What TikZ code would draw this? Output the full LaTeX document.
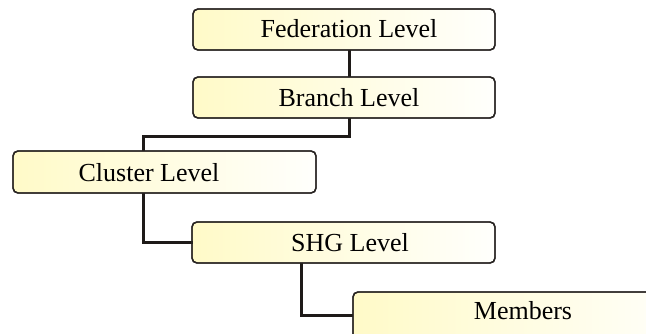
\documentclass[tikz,border=0pt]{standalone}
\usepackage{fontspec}
\setmainfont{Liberation Serif}
\newfontfamily\levelfont{Liberation Serif}
\usetikzlibrary{calc}
\definecolor{boxyellow}{RGB}{255,250,200}
\definecolor{boxwhite}{RGB}{255,255,252}
\definecolor{boxedge}{RGB}{40,36,34}
\definecolor{linkcol}{RGB}{30,26,24}
\tikzset{
  levelbox/.style={draw=boxedge, line width=1.4pt, rounded corners=5pt,
    left color=boxyellow, right color=boxwhite, inner sep=0pt},
  boxedge/.style={draw=boxedge, line width=1.4pt, rounded corners=5pt},
  lbl/.style={anchor=base, inner sep=0pt, text=black,
    font=\levelfont\fontsize{26}{31}\selectfont},
  link/.style={draw=linkcol, line width=3pt}
}
\begin{document}
\begin{tikzpicture}[x=1pt, y=-1pt]
  \useasboundingbox (0,0) rectangle (646,333);
  \clip (0,0) rectangle (646,333);

  % level boxes
  \path[levelbox] (193,9)   rectangle (495,50)  node[pos=0.5, inner sep=0pt] (fed) {};
  \path[levelbox] (193,77)  rectangle (495,118) node[pos=0.5, inner sep=0pt] (br) {};
  \path[levelbox] (13,151)  rectangle (316,193) node[pos=0.5, inner sep=0pt] (cl) {};
  \path[levelbox] (192,222) rectangle (495,263) node[pos=0.5, inner sep=0pt] (shg) {};
  \path[levelbox] (353,292) rectangle (693,340) node[pos=0.5, inner sep=0pt] (mem) {};

  % joint points of the connectors
  \coordinate (fedB) at (349,50);
  \coordinate (brT)  at (349,77);
  \coordinate (brB)  at (349,118);
  \coordinate (elbow) at (143,136);
  \coordinate (clT)  at (143,151);
  \coordinate (clB)  at (143,193);
  \coordinate (shgL) at (193,242);
  \coordinate (shgB) at (301,263);
  \coordinate (memL) at (353,315);

  % connectors
  \draw[link] (fedB) -- (brT);
  \draw[link] (brB) |- (elbow) -- (clT);
  \draw[link] (clB) |- (shgL);
  \draw[link] (shgB) |- (memL);

  % box outlines drawn over the connector ends
  \draw[boxedge] (193,9) rectangle (495,50);
  \draw[boxedge] (193,77) rectangle (495,118);
  \draw[boxedge] (13,151) rectangle (316,193);
  \draw[boxedge] (192,222) rectangle (495,263);
  \draw[boxedge] (353,292) rectangle (693,340);

  % labels
  \node[lbl] (tfed) at (349,37)  {Federation Level};
  \node[lbl] (tbr)  at (349,106) {Branch Level};
  \node[lbl] (tcl)  at (149,181) {Cluster Level};
  \node[lbl] (tshg) at (350,251) {SHG Level};
  \node[lbl] (tmem) at (523,319) {Members};
\end{tikzpicture}
\end{document}
